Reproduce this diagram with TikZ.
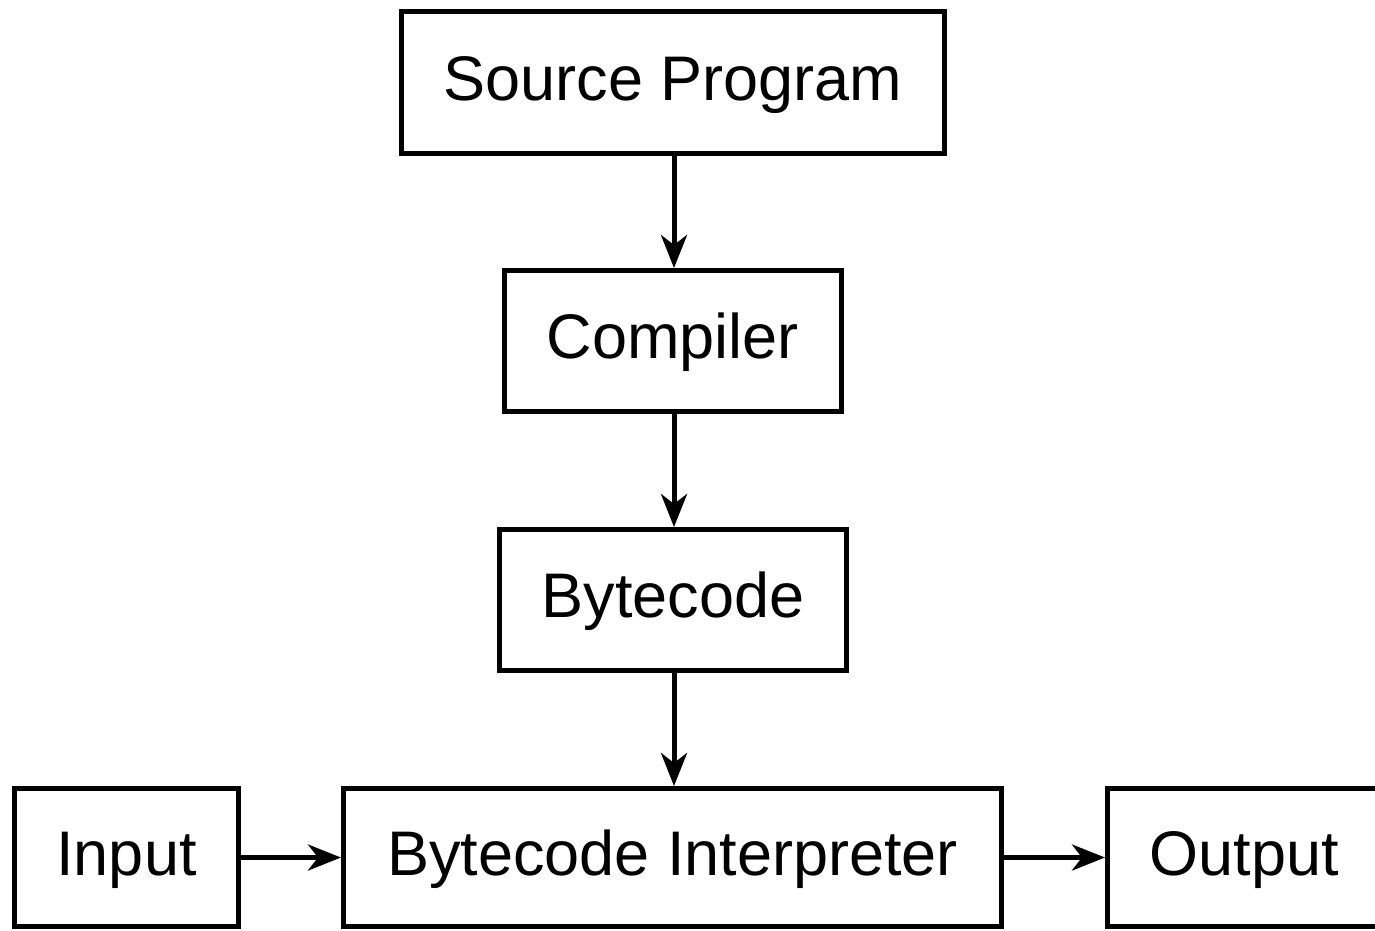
\documentclass[tikz,border=0pt]{standalone}
\usepackage{fontspec}
\setmainfont{Liberation Sans}
\usetikzlibrary{arrows.meta}
\begin{document}
\begin{tikzpicture}[x=1pt,y=-1pt,
  blk/.style={draw=black,line width=5pt,inner sep=0pt,text height=45pt,text depth=10pt,
    font=\fontsize{63}{70}\selectfont},
  conn/.style={line width=5pt,-{Stealth[length=33pt,width=26pt,inset=10pt]}}]
\clip (0,0) rectangle (1375,930);
\fill[white] (0,0) rectangle (1375,930);
\node[blk,minimum width=543pt,minimum height=142pt] (src) at (673,82.5) {Source Program};
\node[blk,minimum width=337pt,minimum height=141pt] (comp) at (673,341) {Compiler};
\node[blk,minimum width=347pt,minimum height=141pt] (byte) at (673,600) {Bytecode};
\node[blk,minimum width=658pt,minimum height=138pt] (interp) at (672.5,857.5) {Bytecode Interpreter};
\node[blk,minimum width=224pt,minimum height=138pt] (in) at (126.5,857.5) {Input};
\node[blk,minimum width=273pt,minimum height=138pt] (out) at (1244,857.5) {Output};
\draw[conn] (src.south -| 674,0) -- (comp.north -| 674,0);
\draw[conn] (comp.south -| 674,0) -- (byte.north -| 674,0);
\draw[conn] (byte.south -| 674,0) -- (interp.north -| 674,0);
\draw[conn] (in.east) -- (interp.west);
\draw[conn] (interp.east) -- (out.west);
\end{tikzpicture}
\end{document}
